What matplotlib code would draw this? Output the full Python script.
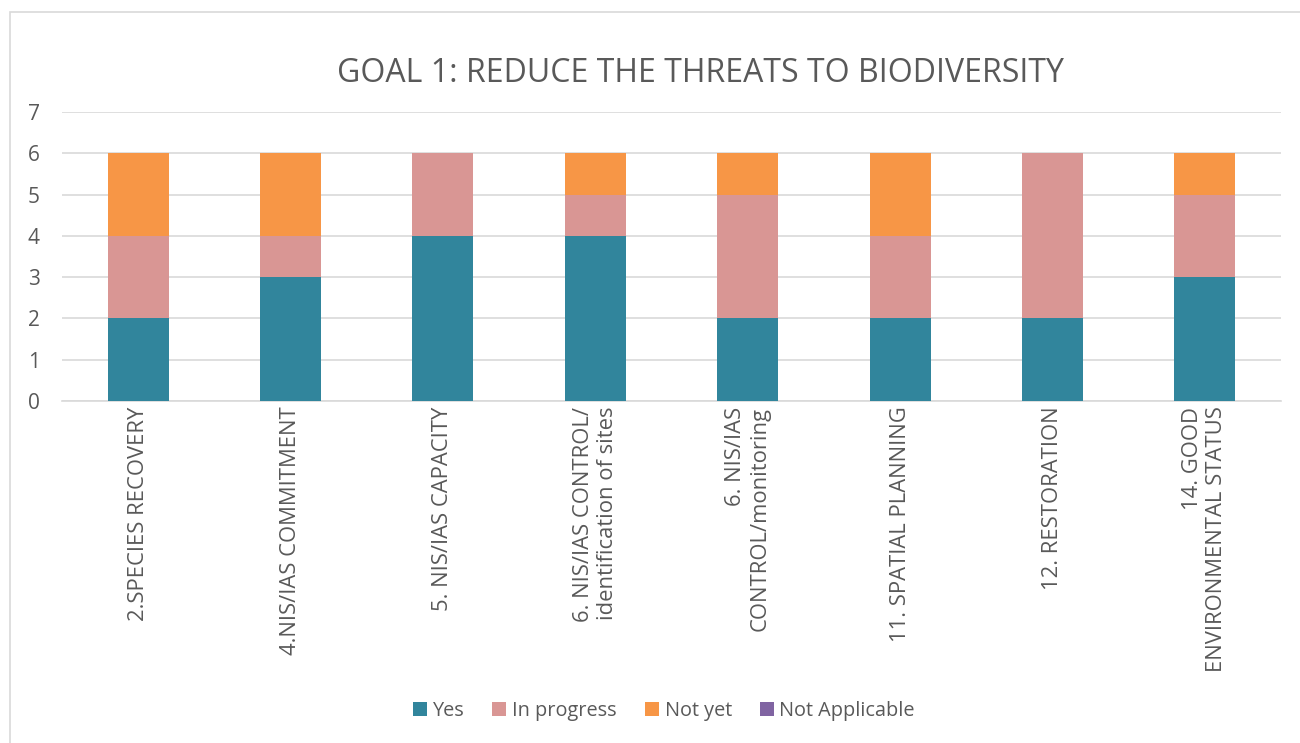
import matplotlib
matplotlib.use("Agg")
import matplotlib.pyplot as plt
from matplotlib.patches import Rectangle
import numpy as np

categories = [
    "2.SPECIES RECOVERY",
    "4.NIS/IAS COMMITMENT",
    "5. NIS/IAS CAPACITY",
    "6. NIS/IAS CONTROL/\nidentification of sites",
    "6. NIS/IAS\nCONTROL/monitoring",
    "11. SPATIAL PLANNING",
    "12. RESTORATION",
    "14. GOOD\nENVIRONMENTAL STATUS",
]
yes = [2, 3, 4, 4, 2, 2, 2, 3]
in_progress = [2, 1, 2, 1, 3, 2, 4, 2]
not_yet = [2, 2, 0, 1, 1, 2, 0, 1]
not_applicable = [0, 0, 0, 0, 0, 0, 0, 0]

series = [
    ("Yes", yes, "#31859C"),
    ("In progress", in_progress, "#D99694"),
    ("Not yet", not_yet, "#F79646"),
    ("Not Applicable", not_applicable, "#8064A2"),
]

plt.rcParams["font.family"] = ["Open Sans", "DejaVu Sans"]
text_color = "#595959"

W, H = 1300, 743
fig = plt.figure(figsize=(13, 7.43), dpi=100)
ax = fig.add_axes([62 / W, 1 - 401 / H, (1281 - 62) / W, (401 - 112) / H])

x = np.arange(len(categories))
bottom = np.zeros(len(categories))
handles = []
for name, vals, color in series:
    vals = np.array(vals, dtype=float)
    h = ax.bar(x, vals, width=0.4, bottom=bottom, color=color, label=name, zorder=3)
    handles.append(h)
    bottom += vals

ax.set_xlim(-0.5, len(categories) - 0.5)
ax.set_ylim(0, 7)
ax.set_yticks(range(0, 8))
ax.yaxis.grid(True, color="#D9D9D9", linewidth=1.2, zorder=0)
ax.set_axisbelow(True)
for s in ["top", "right", "left"]:
    ax.spines[s].set_visible(False)
ax.spines["bottom"].set_color("#D9D9D9")
ax.spines["bottom"].set_linewidth(1.2)
ax.tick_params(axis="both", length=0, colors=text_color)
ax.tick_params(axis="y", pad=16, labelsize=15)

ax.set_xticks(x)
ax.set_xticklabels(categories, rotation=90, ha="center", va="top",
                   multialignment="right", fontsize=15.8, color=text_color,
                   linespacing=1.2)
ax.tick_params(axis="x", pad=4)

fig.text(700 / W, 1 - 73 / H, "GOAL 1: REDUCE THE THREATS TO BIODIVERSITY",
         ha="center", va="center", fontsize=23, color=text_color)

leg = fig.legend(handles=handles, labels=[s[0] for s in series],
                 loc="center", bbox_to_anchor=(664 / W, 1 - 711 / H), ncol=4,
                 frameon=False, fontsize=14.3, handlelength=0.7, handleheight=0.7,
                 handletextpad=0.3, columnspacing=1.4, labelcolor=text_color)

# chart area border
fig.patches.append(Rectangle((10 / W, -0.01), 1.2, 1 - 12 / H + 0.01,
                             transform=fig.transFigure, fill=False,
                             edgecolor="#D9D9D9", linewidth=1.2))

fig.savefig("out.png", dpi=100, facecolor="white")
